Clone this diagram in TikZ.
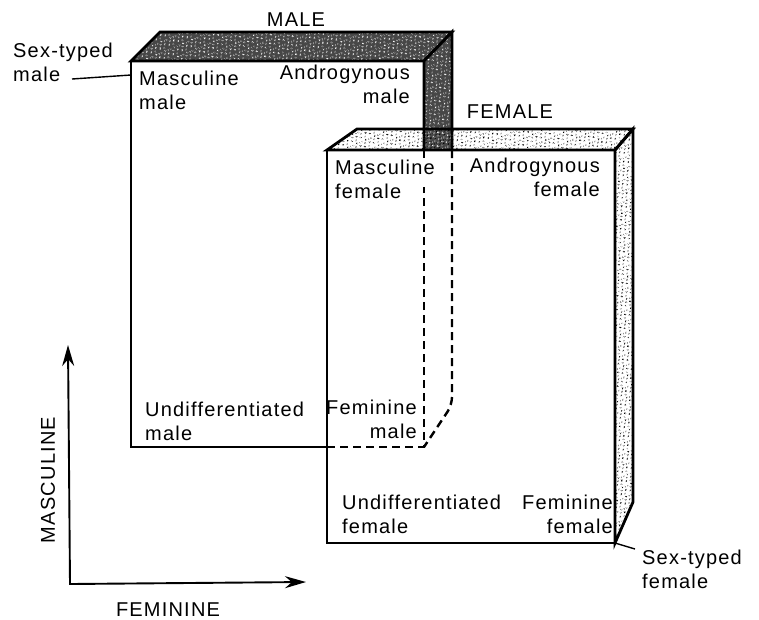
\documentclass[tikz,border=0pt]{standalone}
\usepackage{fontspec}
\setmainfont{Liberation Sans}[LetterSpace=6]
\usetikzlibrary{arrows.meta, patterns, patterns.meta, positioning}
\tikzdeclarepattern{
    name=speckle,
    type=uncolored,
    bottom left={(0pt,0pt)},
    top right={(10pt,10pt)},
    tile size={(10pt,10pt)},
    tile transformation={rotate=23},
    code={
        \fill (1.5pt,2pt) circle (0.9pt);
        \fill (6pt,1pt) circle (0.7pt);
        \fill (3.5pt,5.5pt) circle (0.8pt);
        \fill (8pt,4.5pt) circle (1pt);
        \fill (1pt,8pt) circle (0.7pt);
        \fill (5.5pt,8.5pt) circle (0.9pt);
        \fill (8.6pt,8pt) circle (0.6pt);
    }
}
\tikzset{
    outline/.style={line width=2.8pt},
    darkslab/.style={outline, preaction={fill=black!72}, pattern=speckle, pattern color=white},
    lightslab/.style={outline, pattern=speckle, pattern color=black},
    face/.style={outline, fill=white},
    hidden/.style={line width=2.4pt, dash pattern=on 8pt off 5pt},
    cell/.style={inner sep=1pt, align=left},
    pointer/.style={line width=1.4pt},
    axisarrow/.style={line width=1.9pt, {Stealth[length=21pt,width=12pt]}-{Stealth[length=21pt,width=12pt]}},
}

\begin{document}
\begin{tikzpicture}[x=1pt, y=-1pt, font=\fontsize{20}{24}\selectfont]
    \useasboundingbox (0,0) rectangle (759,619);
    % corners of the male box
    \coordinate (mFTL) at (131,61);
    \coordinate (mFTR) at (424,61);
    \coordinate (mFBL) at (131,447);
    \coordinate (mFBR) at (424,447);
    \coordinate (mBTL) at (160,32);
    \coordinate (mBTR) at (452,32);
    \coordinate (mBBR) at (452,405);
    % corners of the female box
    \coordinate (fFTL) at (327,150);
    \coordinate (fFTR) at (615,150);
    \coordinate (fFBR) at (615,543);
    \coordinate (fBTL) at (357,129);
    \coordinate (fBTR) at (633,129);
    \coordinate (fBBR) at (633,502);
    % male box
    \draw[outline] (mFTL) rectangle (mFBR);
    \draw[darkslab] (mFTL) -- (mBTL) -- (mBTR) -- (mFTR) -- cycle;
    \draw[darkslab] (mFTR) -- (mBTR) -- (mBBR) -- (mFBR) -- cycle;
    % female box
    \draw[face] (fFTL) rectangle (fFBR);
    \draw[lightslab] (fFTL) -- (fBTL) -- (fBTR) -- (fFTR) -- cycle;
    \draw[lightslab] (fFTR) -- (fBTR) -- (fBBR) -- (fFBR) -- cycle;
    % hidden edges of the male box
    \coordinate (mHL) at (327,447);
    \coordinate (mHF) at (424,150);
    \coordinate (mHG) at (424,158);
    \coordinate (mHH) at (424,187);
    \coordinate (mHB) at (452,150);
    \draw[hidden] (mHF) -- (mHG);
    \draw[hidden] (mHL) -- (mFBR) -- (mHH);
    \draw[hidden, rounded corners=8pt] (mHB) -- (mBBR) -- (mFBR);

    \node (maletitle) at (296,20) {MALE};
    \node (femaletitle) at (510,112) {FEMALE};
    \node[cell, anchor=north west] (mascm) at (138,70) {Masculine\\male};
    \node[cell, anchor=north east, align=right] (andm) at (411,64) {Androgynous\\male};
    \node[cell, anchor=north west] (mascf) at (334,159) {Masculine\\female};
    \node[cell, anchor=north east, align=right] (andf) at (601,157) {Androgynous\\female};
    \node[cell, anchor=north west] (undm) at (144,401) {Undifferentiated\\male};
    \node[cell, anchor=north east, align=right] (femm) at (418,399) {Feminine\\male};
    \node[cell, anchor=north west] (undf) at (341,494) {Undifferentiated\\female};
    \node[cell, anchor=north east, align=right] (femf) at (614,494) {Feminine\\female};

    % sex-typed corners
    \node[cell, anchor=north west] (sexm) at (12,42) {Sex-typed\\male};
    \coordinate (mtag) at (72,79);
    \coordinate (mSex) at (131,75);
    \draw[pointer] (mtag) -- (mSex);
    \node[cell, anchor=north west] (sexf) at (641,549) {Sex-typed\\female};
    \coordinate (ftag) at (635,549);
    \draw[pointer] (fFBR) -- (ftag);

    % axes
    \coordinate (org) at (70,584);
    \coordinate (ytip) at (68,345);
    \coordinate (xtip) at (306,582);
    \draw[axisarrow] (ytip) -- (org) -- (xtip);
    \node[rotate=90] (mascaxis) at (48,480) {MASCULINE};
    \node[inner sep=1pt, anchor=base] (femaxis) at (168,616) {FEMININE};
\end{tikzpicture}
\end{document}
